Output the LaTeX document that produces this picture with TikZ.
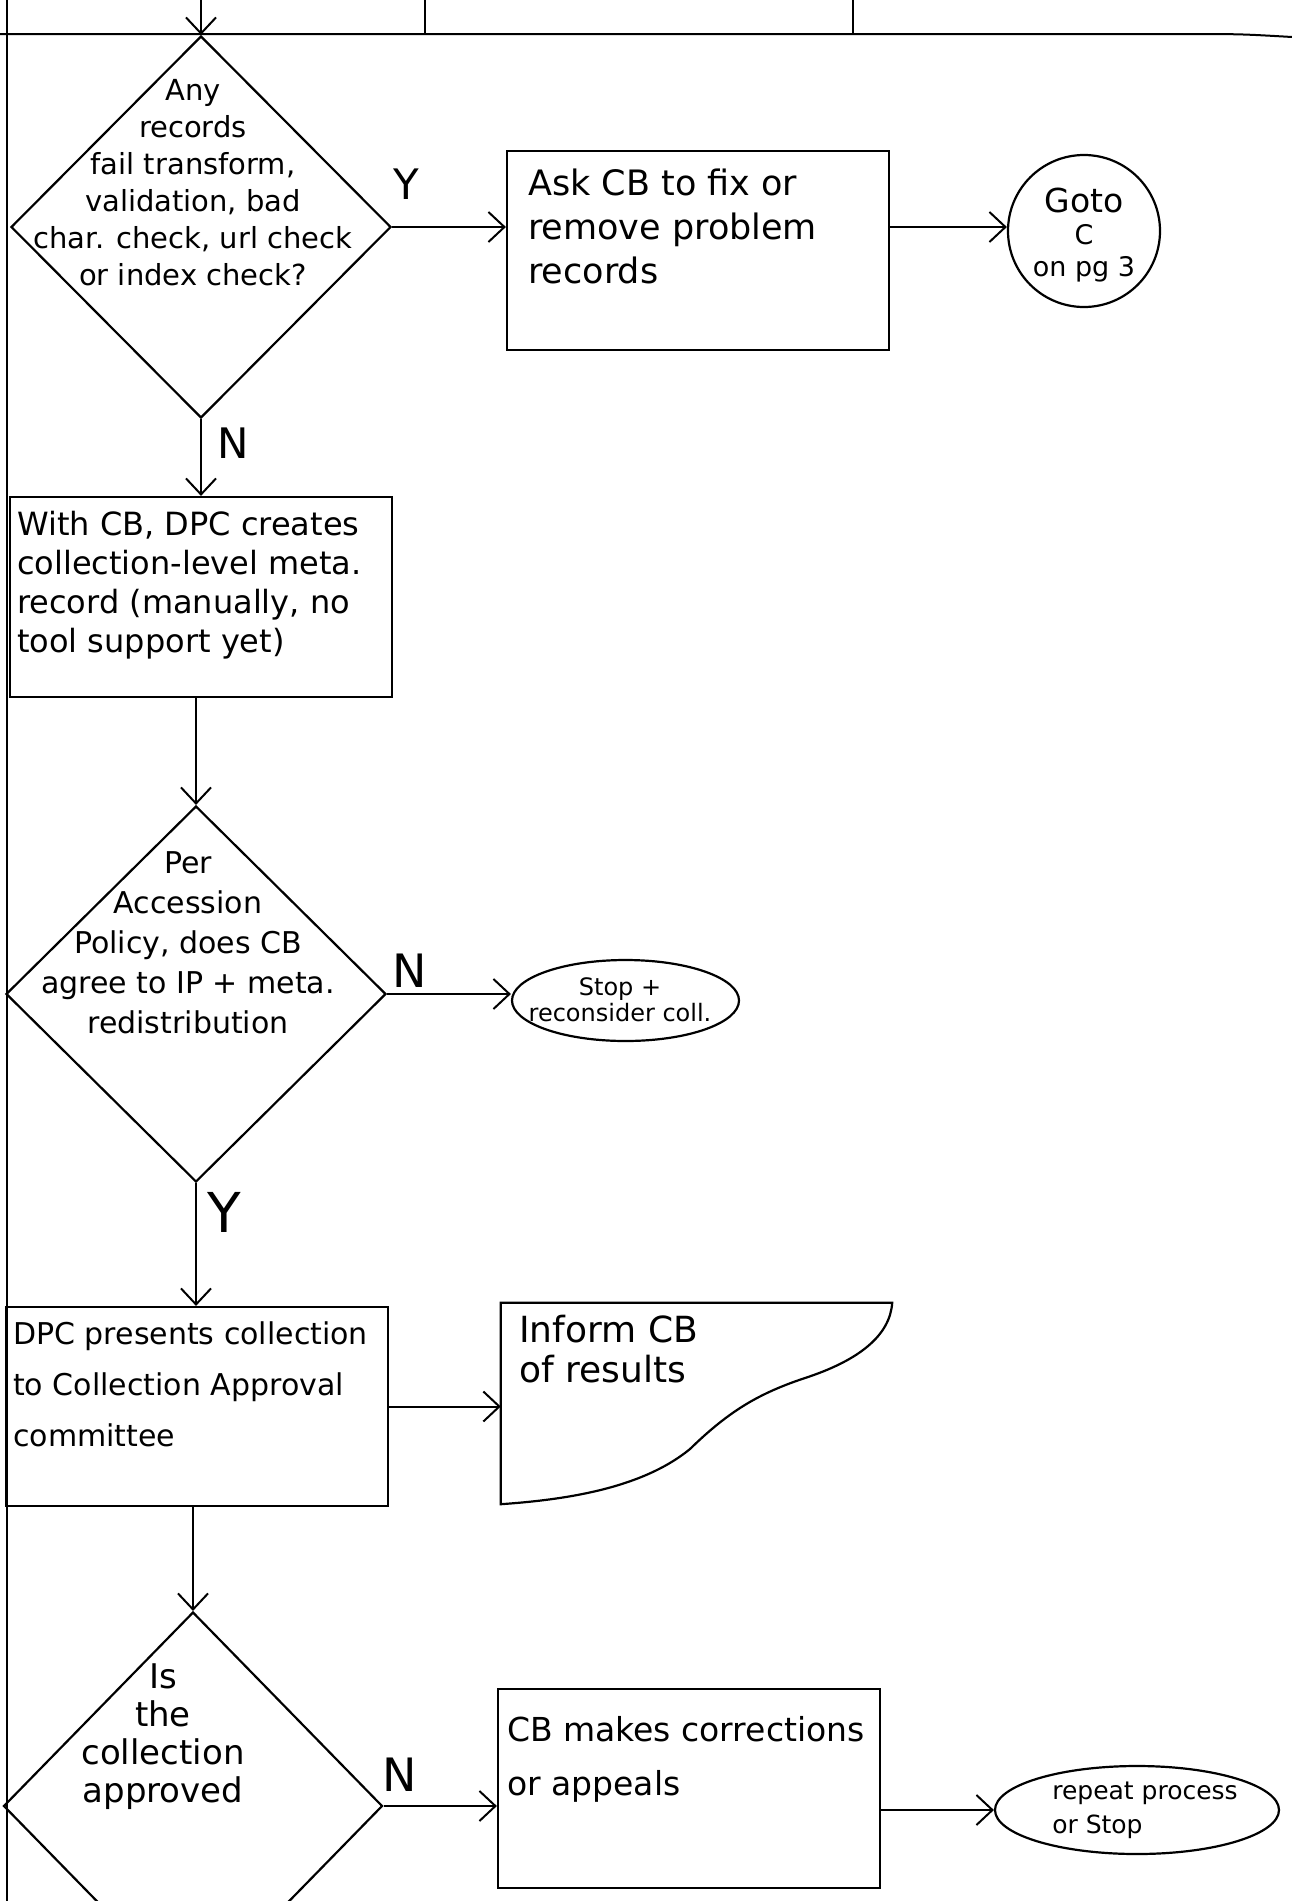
\documentclass[tikz,border=0pt]{standalone}
\usepackage{fontspec}
\setmainfont{DejaVu Sans}
\usetikzlibrary{shapes.geometric,arrows.meta,calc}
\tikzset{
  shp/.style={draw, line width=2.2pt, inner sep=0pt},
  boxn/.style={shp, rectangle, minimum width=382pt, minimum height=199pt},
  dia/.style={shp, diamond},
  arr/.style={line width=2pt, -{Straight Barb[length=16pt,width=30pt,line width=2pt]}},
  txt/.style={inner sep=0pt, align=left},
  ctxt/.style={inner sep=0pt, align=center},
  yn/.style={inner sep=0pt, font=\fontsize{42}{42}\selectfont},
}
\begin{document}
\begin{tikzpicture}[x=1pt,y=-1pt]
\useasboundingbox (0,0) rectangle (1292,1901);
\clip (0,0) rectangle (1292,1901);
\fill[white] (0,0) rectangle (1292,1901);

% page frame lines
\draw[line width=2pt] (0,34) -- (1180,34) .. controls (1240,34) .. (1292,37);
\draw[line width=1.8pt] (425,0) -- (425,34);
\draw[line width=1.8pt] (853,0) -- (853,34);
\draw[line width=1.8pt] (7,0) -- (7,1901);

% shapes
\node[dia, minimum width=380pt, minimum height=382pt] (d1) at (201,227) {};
\node[boxn] (b1) at (698,250.5) {};
\node[shp, circle, minimum size=152pt] (c1) at (1084,231) {};
\node[boxn, minimum height=200pt] (b2) at (201,597) {};
\node[dia, minimum width=380pt, minimum height=376pt] (d2) at (196,994) {};
\node[shp, ellipse, minimum width=227pt, minimum height=81pt] (e1) at (625.5,1000.5) {};
\node[boxn] (b3) at (197,1406.5) {};
\node[inner sep=0pt, minimum width=391pt, minimum height=201pt] (doc) at (696.5,1403.5) {};
\draw[line width=2.2pt] (doc.south west) -- (doc.north west) -- (doc.north east)
  .. controls (890,1335) and (860,1360) .. (805,1378)
  .. controls (760,1393) and (730,1410) .. (690,1449)
  .. controls (640,1490) and (560,1500) .. (doc.south west) -- cycle;
\node[dia, minimum width=379pt, minimum height=388pt] (d3) at (193,1806) {};
\node[boxn] (b4) at (689,1788.5) {};
\node[shp, ellipse, minimum width=284pt, minimum height=88pt] (e2) at (1137,1810) {};

% texts
\node[ctxt, anchor=north, font=\fontsize{29}{37}\selectfont] (t1) at (193,79)
  {Any\\records\\fail transform,\\validation, bad\\char. check, url check\\or index check?};
\node[txt, anchor=north west, font=\fontsize{35}{44}\selectfont] (t2) at (528,169)
  {Ask CB to fix or\\remove problem\\records};
\node[ctxt, font=\fontsize{27}{32}\selectfont] (t3) at (1084,235)
  {{\fontsize{33}{32}\selectfont Goto}\\C\\on pg 3};
\node[txt, anchor=north west, font=\fontsize{32}{39}\selectfont] (t4) at (17,511)
  {With CB, DPC creates\\collection-level meta.\\record (manually, no\\tool support yet)};
\node[ctxt, anchor=north, font=\fontsize{30}{40}\selectfont] (t5) at (188,851)
  {Per\\Accession\\Policy, does CB\\agree to IP + meta.\\redistribution};
\node[ctxt, font=\fontsize{24}{26}\selectfont] (t6) at (620,1000) {Stop +\\reconsider coll.};
\node[txt, anchor=north west, font=\fontsize{30}{51}\selectfont] (t7) at (13,1321)
  {DPC presents collection\\to Collection Approval\\committee};
\node[txt, anchor=north west, font=\fontsize{36}{40}\selectfont] (t8) at (519,1315)
  {Inform CB\\of results};
\node[ctxt, anchor=north, font=\fontsize{34}{38}\selectfont] (t9) at (163,1663)
  {Is\\the\\collection\\approved};
\node[txt, anchor=north west, font=\fontsize{33}{54}\selectfont] (t10) at (507,1716)
  {CB makes corrections\\or appeals};
\node[txt, font=\fontsize{25}{34}\selectfont] (t11) at (1145,1810) {repeat process\\or Stop};

% Y/N labels
\node[yn] (y1) at (406,184) {Y};
\node[yn] (n1) at (233,443) {N};
\node[yn, font=\fontsize{46}{46}\selectfont] (n2) at (410,971) {N};
\node[yn, font=\fontsize{55}{55}\selectfont] (y2) at (224,1212) {Y};
\node[yn, font=\fontsize{46}{46}\selectfont] (n3) at (400,1775) {N};

% connectors
\coordinate (topin) at (203,0);
\draw[arr] (d1.north |- topin) -- (d1.north);
\draw[arr] (d1.east) -- (d1.east -| b1.west);
\draw[arr] (b1.east |- d1.east) -- (c1.west |- d1.east);
\draw[arr] (d1.south) -- (b2.north);
\draw[arr] (d2.north |- b2.south) -- (d2.north);
\draw[arr] (d2.east) -- (d2.east -| e1.west);
\draw[arr] (d2.south) -- (d2.south |- b3.north);
\draw[arr] (b3.east) -- (b3.east -| doc.west);
\draw[arr] (d3.north |- b3.south) -- (d3.north);
\draw[arr] (d3.east) -- (d3.east -| b4.west);
\draw[arr] (b4.east |- e2.west) -- (e2.west);
\end{tikzpicture}
\end{document}
